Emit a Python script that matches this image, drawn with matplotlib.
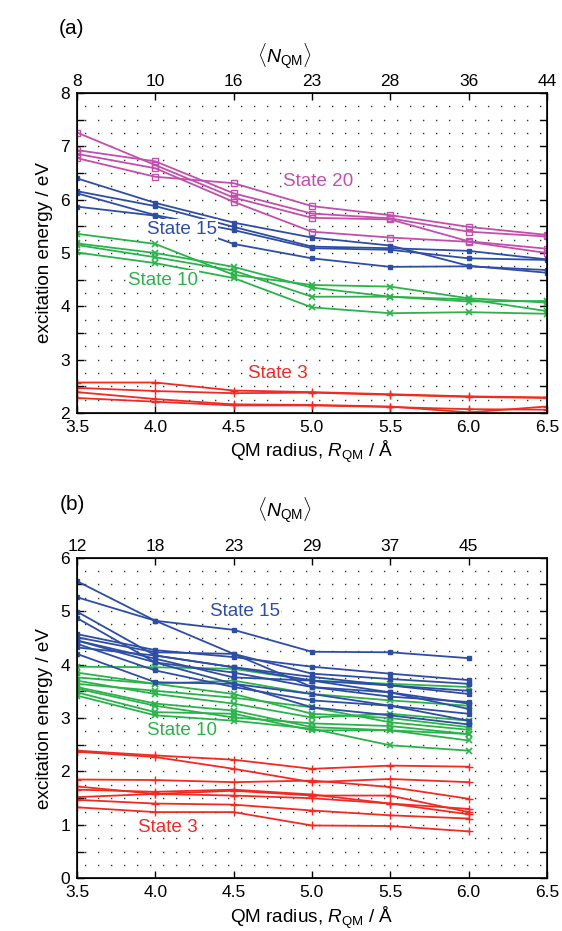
import numpy as np
import matplotlib.pyplot as plt

plt.rcParams['font.family'] = ['Liberation Sans', 'DejaVu Sans']
plt.rcParams['mathtext.fontset'] = 'custom'
plt.rcParams['mathtext.rm'] = 'Liberation Sans'
plt.rcParams['mathtext.it'] = 'Liberation Sans:italic'
plt.rcParams['lines.scale_dashes'] = False

MAGENTA = '#c24fac'
BLUE = '#2e4ea6'
GREEN = '#2bb34b'
RED = '#ef2b24'

# ---- panel (a) ----
r_a = [3.5, 4.0, 4.5, 5.0, 5.5, 6.0, 6.5]
n_a = [8, 10, 16, 23, 28, 36, 44]

state20_a = [
    [7.26, 6.65, 6.04, 5.66, 5.63, 5.22, 5.08],
    [6.93, 6.72, 6.12, 5.74, 5.65, 5.40, 5.31],
    [6.86, 6.59, 5.96, 5.40, 5.29, 5.21, 5.00],
    [6.78, 6.43, 6.31, 5.88, 5.71, 5.49, 5.34],
]
state15_a = [
    [6.40, 5.94, 5.57, 5.29, 5.14, 4.76, 4.63],
    [6.16, 5.88, 5.49, 5.12, 5.09, 5.04, 4.88],
    [6.12, 5.71, 5.43, 5.09, 5.06, 4.90, 4.87],
    [5.87, 5.70, 5.17, 4.90, 4.74, 4.75, 4.68],
]
state10_a = [
    [5.36, 5.17, 4.59, 4.40, 4.37, 4.15, 4.07],
    [5.18, 5.00, 4.74, 4.35, 4.18, 4.09, 4.10],
    [5.15, 4.92, 4.67, 4.18, 4.18, 4.13, 3.91],
    [5.01, 4.81, 4.53, 3.98, 3.87, 3.89, 3.86],
]
state3_a = [
    [2.57, 2.57, 2.42, 2.39, 2.35, 2.31, 2.29],
    [2.47, 2.41, 2.37, 2.38, 2.34, 2.30, 2.28],
    [2.39, 2.26, 2.16, 2.15, 2.12, 2.01, 2.12],
    [2.28, 2.21, 2.14, 2.14, 2.11, 2.07, 2.06],
]

# ---- panel (b) ----
r_b = [3.5, 4.0, 4.5, 5.0, 5.5, 6.0]
n_b = [12, 18, 23, 29, 37, 45]

state15_b = [
    [5.56, 4.82, 4.20, 3.58, 3.48, 3.17],
    [5.26, 4.82, 4.65, 4.24, 4.23, 4.12],
    [4.99, 4.17, 3.95, 3.70, 3.61, 3.51],
    [4.87, 4.04, 3.64, 3.45, 3.23, 2.95],
    [4.57, 4.27, 4.14, 3.96, 3.83, 3.71],
    [4.51, 4.23, 4.20, 3.83, 3.73, 3.64],
    [4.45, 4.11, 3.76, 3.70, 3.48, 3.27],
    [4.39, 3.89, 3.58, 3.33, 3.23, 3.08],
    [4.32, 4.17, 3.95, 3.77, 3.61, 3.45],
    [4.20, 3.67, 3.64, 3.20, 3.05, 2.88],
    [4.45, 4.04, 3.85, 3.58, 3.40, 3.30],
]
state10_b = [
    [3.96, 3.95, 3.92, 3.70, 3.64, 3.58],
    [3.76, 3.64, 3.70, 3.45, 3.33, 3.23],
    [3.70, 3.45, 3.27, 3.01, 3.08, 2.95],
    [3.64, 3.51, 3.38, 3.20, 2.92, 2.78],
    [3.58, 3.27, 3.14, 2.83, 2.77, 2.70],
    [3.48, 3.11, 3.08, 2.77, 2.77, 2.58],
    [3.42, 3.05, 2.95, 2.80, 2.49, 2.39],
    [3.85, 3.64, 3.45, 3.08, 3.00, 2.83],
    [3.55, 3.23, 3.01, 2.90, 2.85, 2.70],
]
state3_b = [
    [2.39, 2.30, 2.22, 2.05, 2.11, 2.09],
    [2.37, 2.27, 2.05, 1.80, 1.86, 1.80],
    [1.85, 1.84, 1.80, 1.83, 1.71, 1.49],
    [1.72, 1.58, 1.64, 1.55, 1.55, 1.24],
    [1.66, 1.62, 1.66, 1.57, 1.40, 1.30],
    [1.52, 1.58, 1.55, 1.50, 1.40, 1.20],
    [1.47, 1.40, 1.38, 1.27, 1.18, 1.12],
    [1.33, 1.24, 1.24, 0.99, 0.98, 0.88],
]

styles = {
    'State 20': dict(color=MAGENTA, marker='s', mfc='none', ms=5, mew=1.0),
    'State 15': dict(color=BLUE, marker='s', ms=3.5, mew=1.0),
    'State 10': dict(color=GREEN, marker='x', ms=4.5, mew=1.2),
    'State 3': dict(color=RED, marker='+', ms=6, mew=1.0),
}

TICK_FS = 12.5
LABEL_FS = 13.6

fig = plt.figure(figsize=(5.62, 9.31), dpi=100)
ax_a = fig.add_axes([0.137, 0.5565, 0.836, 0.3435])
ax_b = fig.add_axes([0.137, 0.0565, 0.836, 0.3445])


def draw_panel(ax, r, n, groups, ymax):
    ax.set_xlim(3.5, 6.5)
    ax.set_ylim(ymax - 6, ymax)
    # dotted grid
    for y in np.arange(ymax - 6 + 0.25, ymax, 0.25):
        ax.axhline(y, color='#333333', lw=1.0, ls=(4, (1.0, 8.36)), zorder=0)
    for name, series in groups:
        for s in series:
            ax.plot(r, s, lw=1.3, zorder=2, **styles[name])
    ax.set_xticks([3.5, 4.0, 4.5, 5.0, 5.5, 6.0, 6.5])
    ax.set_xticklabels(['%.1f' % v for v in [3.5, 4.0, 4.5, 5.0, 5.5, 6.0, 6.5]])
    ax.set_yticks(range(ymax - 6, ymax + 1))
    ax.set_yticks(np.arange(ymax - 6, ymax, 0.5), minor=True)
    ax.tick_params(direction='in', which='both', top=False, right=True,
                   labelsize=TICK_FS, length=5, width=1.0, pad=5)
    ax.tick_params(which='minor', length=5)
    for sp in ax.spines.values():
        sp.set_linewidth(1.2)
    ax.set_xlabel(r'QM radius, $R_{\mathrm{QM}}$ / Å', fontsize=LABEL_FS, labelpad=3)
    ax.set_ylabel('excitation energy / eV', fontsize=LABEL_FS, labelpad=5)
    top = ax.twiny()
    top.set_xlim(3.5, 6.5)
    top.set_xticks(r)
    top.set_xticklabels([str(v) for v in n])
    top.tick_params(direction='in', labelsize=TICK_FS, length=5, width=1.0, pad=3)


draw_panel(ax_a, r_a, n_a,
           [('State 20', state20_a), ('State 15', state15_a),
            ('State 10', state10_a), ('State 3', state3_a)], 8)
draw_panel(ax_b, r_b, n_b,
           [('State 10', state10_b), ('State 15', state15_b),
            ('State 3', state3_b)], 6)

box = dict(facecolor='white', edgecolor='none', pad=1)
ax_a.text(5.04, 6.34, 'State 20', color=MAGENTA, fontsize=LABEL_FS, ha='center', va='center', bbox=box, zorder=3)
ax_a.text(4.17, 5.45, 'State 15', color=BLUE, fontsize=LABEL_FS, ha='center', va='center', bbox=box, zorder=3)
ax_a.text(4.05, 4.49, 'State 10', color=GREEN, fontsize=LABEL_FS, ha='center', va='center', bbox=box, zorder=3)
ax_a.text(4.78, 2.74, 'State 3', color=RED, fontsize=LABEL_FS, ha='center', va='center', bbox=box, zorder=3)

ax_b.text(4.57, 5.0, 'State 15', color=BLUE, fontsize=LABEL_FS, ha='center', va='center', bbox=box, zorder=3)
ax_b.text(4.17, 2.77, 'State 10', color=GREEN, fontsize=LABEL_FS, ha='center', va='center', bbox=box, zorder=3)
ax_b.text(4.08, 0.96, 'State 3', color=RED, fontsize=LABEL_FS, ha='center', va='center', bbox=box, zorder=3)

fig.text(72 / 562, 1 - 28 / 931, '(a)', fontsize=15, ha='center', va='center')
fig.text(72 / 562, 1 - 505 / 931, '(b)', fontsize=15, ha='center', va='center')
fig.text(285 / 562, 1 - 56 / 931, r'$\langle N_{\mathrm{QM}} \rangle$', fontsize=14, ha='center', va='center')
fig.text(285 / 562, 1 - 510 / 931, r'$\langle N_{\mathrm{QM}} \rangle$', fontsize=14, ha='center', va='center')

fig.savefig('out.png', dpi=100)
